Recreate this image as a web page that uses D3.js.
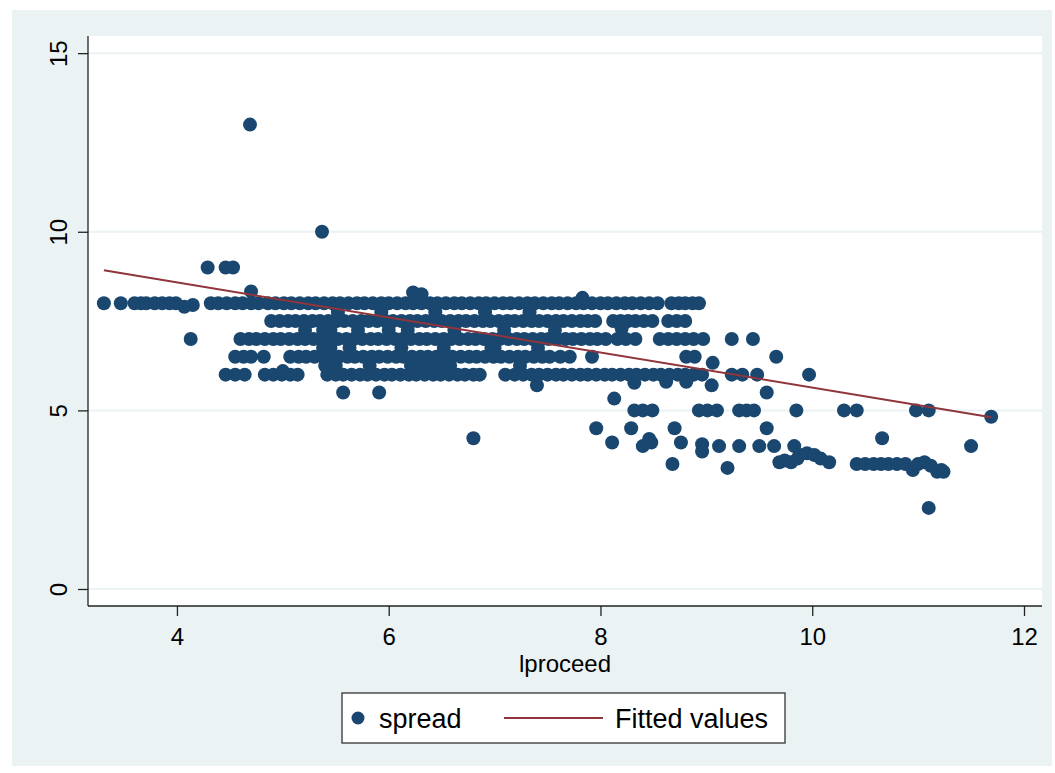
<!DOCTYPE html>
<html>
<head>
<meta charset="utf-8">
<script src="https://cdn.jsdelivr.net/npm/d3@7"></script>
<style>
  body { margin: 0; background: #fff; }
  svg text { font-family: "Liberation Sans", Arial, sans-serif; fill: #000; }
</style>
</head>
<body>
<div id="chart"></div>
<script>
// spread values sit on half-point levels, so the scatter is kept row by row (lproceed values)
const row8 = [3.31, 3.47, 3.60, 3.66, 3.71, 3.79, 3.86, 3.93, 3.99,
  4.32, 4.39, 4.47, 4.55, 4.62, 4.70, 4.77, 4.86, 4.93, 5.01, 5.08, 5.16, 5.24, 5.31, 5.39,
  5.47, 5.54, 5.62, 5.70, 5.77, 5.85, 5.93, 6.00, 6.08, 6.16, 6.23, 6.31, 6.39, 6.46, 6.54,
  6.62, 6.69, 6.77, 6.85, 6.92, 7.00, 7.08, 7.15, 7.23, 7.31, 7.38, 7.46, 7.54, 7.61, 7.69,
  7.77, 7.84, 7.92, 8.00, 8.07, 8.15, 8.23, 8.30, 8.38, 8.46, 8.54,
  8.67, 8.74, 8.80, 8.87, 8.93];
const row75 = [4.89, 4.97, 5.05, 5.12, 5.20, 5.28, 5.35, 5.43, 5.51, 5.58, 5.66, 5.74, 5.81,
  5.89, 5.97, 6.04, 6.12, 6.20, 6.27, 6.35, 6.43, 6.50, 6.58, 6.66, 6.73, 6.81, 6.89, 6.96,
  7.04, 7.12, 7.19, 7.27, 7.35, 7.42, 7.50, 7.58, 7.65, 7.73, 7.81, 7.88, 7.95,
  8.12, 8.19, 8.26, 8.33, 8.41, 8.49, 8.64, 8.72, 8.80];
const row7 = [4.13, 4.60, 4.68, 4.75, 4.83, 4.91, 4.98, 5.06, 5.14, 5.21, 5.29, 5.37, 5.44,
  5.52, 5.60, 5.67, 5.75, 5.83, 5.90, 5.98, 6.06, 6.13, 6.21, 6.29, 6.36, 6.44, 6.52, 6.59,
  6.67, 6.75, 6.82, 6.90, 6.98, 7.05, 7.13, 7.21, 7.28, 7.36, 7.44, 7.51, 7.59, 7.67, 7.74,
  7.82, 7.90, 7.97, 8.05, 8.16, 8.24, 8.33, 8.56, 8.64, 8.72, 8.80, 8.88, 8.97, 9.24, 9.44];
const row65 = [4.55, 4.63, 4.70, 4.82, 5.07, 5.15, 5.22, 5.30, 5.38, 5.45, 5.53, 5.61, 5.68,
  5.76, 5.84, 5.91, 5.99, 6.07, 6.14, 6.22, 6.30, 6.37, 6.45, 6.53, 6.60, 6.68, 6.76, 6.83,
  6.91, 6.99, 7.06, 7.14, 7.22, 7.29, 7.37, 7.45, 7.52, 7.62, 7.71, 7.92, 8.81, 8.89, 9.66];
const row6 = [4.46, 4.55, 4.64, 4.83, 4.91, 4.99, 5.07, 5.14, 5.42, 5.50, 5.57, 5.65, 5.73,
  5.80, 5.88, 5.96, 6.03, 6.11, 6.19, 6.26, 6.34, 6.42, 6.49, 6.57, 6.65, 6.72, 6.80, 6.86,
  7.10, 7.19, 7.27, 7.35, 7.42, 7.50, 7.58, 7.65, 7.73, 7.81, 7.88, 7.96, 8.04, 8.11, 8.19,
  8.27, 8.34, 8.42, 8.50, 8.57, 8.65, 8.73, 8.80, 8.88, 8.96, 9.24, 9.34, 9.48, 9.97];
const row55 = [5.57, 5.91, 9.57];
const row5 = [8.32, 8.40, 8.49, 8.93, 9.01, 9.10, 9.31, 9.38, 9.45, 9.85, 10.30, 10.42, 10.98, 11.10];
const row45 = [7.96, 8.29, 8.70, 9.57];

// points off the half-point rows
const otherX = [4.69, 5.37, 4.29, 4.46, 4.53, 4.70, 4.07, 4.15, 6.23, 6.31, 7.83, 5.00,
  5.38, 5.45, 5.38, 5.45, 5.40, 5.50, 6.30, 6.40, 6.50, 6.00, 7.00,
  5.52, 5.93, 6.44, 6.91, 7.33,
  5.21, 5.71, 6.18, 6.62, 7.09, 7.57,
  5.63, 6.12, 6.52, 6.97, 7.41,
  5.82, 6.21, 6.58, 7.24,
  6.80, 7.40, 8.20, 8.13, 8.32, 8.62, 8.81, 9.05, 9.06,
  8.11, 8.40, 8.46, 8.48, 8.76, 8.96, 8.96, 9.12, 9.31, 9.50, 9.64, 9.83, 10.66, 11.50,
  8.68, 9.20, 9.69, 9.74, 9.80, 9.86, 9.88, 9.95, 10.02, 10.08, 10.16,
  10.42, 10.50, 10.58, 10.65, 10.72, 10.80, 10.88, 10.95, 11.00, 11.06, 11.12, 11.18, 11.22, 11.24,
  11.10, 11.69];
const otherY = [13, 10, 9, 9, 9, 8.33, 7.9, 7.95, 8.3, 8.25, 8.15, 6.1,
  7.25, 7.25, 6.75, 6.75, 6.25, 6.25, 6.25, 6.25, 6.3, 7.25, 6.75,
  7.75, 7.75, 7.75, 7.75, 7.75,
  7.25, 7.25, 7.25, 7.25, 7.25, 7.25,
  6.75, 6.75, 6.75, 6.75, 6.75,
  6.25, 6.25, 6.25, 6.25,
  4.22, 5.7, 7.3, 5.33, 5.77, 5.8, 5.8, 5.7, 6.33,
  4.1, 4.0, 4.2, 4.1, 4.1, 3.85, 4.05, 4.0, 4.0, 4.0, 4.0, 4.0, 4.22, 4.0,
  3.5, 3.39, 3.55, 3.6, 3.55, 3.65, 3.75, 3.8, 3.75, 3.65, 3.55,
  3.5, 3.5, 3.5, 3.5, 3.5, 3.5, 3.5, 3.33, 3.5, 3.55, 3.45, 3.28, 3.33, 3.28,
  2.27, 4.82];

// fitted values line (ends at min and max lproceed)
const fitX = [3.31, 11.69];
const fitY = [8.92, 4.81];

const xTicks = [4, 6, 8, 10, 12];
const yTicks = [0, 5, 10, 15];

const points = [];
[[row8, 8], [row75, 7.5], [row7, 7], [row65, 6.5], [row6, 6], [row55, 5.5], [row5, 5], [row45, 4.5]]
  .forEach(([xs, y]) => xs.forEach(x => points.push({ x: x, y: y })));
otherX.forEach((x, i) => points.push({ x: x, y: otherY[i] }));

const W = 1055, H = 773;
const pLeft = 88, pRight = 1042, pTop = 36, pBottom = 606;
const dotColor = "#1a476f", lineColor = "#90353b", bg = "#eaf2f3";

const svg = d3.select("#chart").append("svg")
  .attr("width", W).attr("height", H);

// outer graph region
svg.append("rect").attr("x", 12).attr("y", 10)
  .attr("width", 1040).attr("height", 756).attr("fill", bg);
// plot region
svg.append("rect").attr("x", pLeft).attr("y", pTop)
  .attr("width", pRight - pLeft).attr("height", pBottom - pTop).attr("fill", "#fff");

const xScale = d3.scaleLinear().domain([3.16, 12.17]).range([pLeft, pRight]);
const yScale = d3.scaleLinear().domain([-0.476, 15.48]).range([pBottom, pTop]);

// grid lines
svg.append("g").selectAll("line").data(yTicks).join("line")
  .attr("x1", pLeft).attr("x2", pRight)
  .attr("y1", d => yScale(d)).attr("y2", d => yScale(d))
  .attr("stroke", bg).attr("stroke-width", 2);

// scatter
svg.append("g").selectAll("circle").data(points).join("circle")
  .attr("cx", d => xScale(d.x)).attr("cy", d => yScale(d.y))
  .attr("r", 7).attr("fill", dotColor);

// fitted line
svg.append("path")
  .datum(fitX.map((v, i) => ({ x: v, y: fitY[i] })))
  .attr("fill", "none").attr("stroke", lineColor).attr("stroke-width", 2)
  .attr("d", d3.line().x(d => xScale(d.x)).y(d => yScale(d.y)));

// axes
const yaxis = d3.axisLeft(yScale).tickValues(yTicks).tickSize(10).tickSizeOuter(0);
const xaxis = d3.axisBottom(xScale).tickValues(xTicks).tickSize(10).tickSizeOuter(0);

const gy = svg.append("g").attr("transform", "translate(" + pLeft + ",0)").call(yaxis);
gy.select(".domain").attr("d", "M0," + pTop + "V" + pBottom);
gy.selectAll("text")
  .attr("transform", "rotate(-90)")
  .attr("x", 0).attr("y", -21).attr("dy", 0)
  .attr("text-anchor", "middle")
  .style("font-size", "24px");

const gx = svg.append("g").attr("transform", "translate(0," + pBottom + ")").call(xaxis);
gx.select(".domain").attr("d", "M" + pLeft + ",0H" + pRight);
gx.selectAll("text").attr("y", 39).attr("dy", 0).style("font-size", "24px");

svg.selectAll(".domain, .tick line").attr("stroke", "#222").attr("stroke-width", 1.3);
svg.selectAll(".tick text").attr("fill", "#000").attr("font-family", null);

svg.append("text").attr("x", (pLeft + pRight) / 2).attr("y", 672)
  .attr("text-anchor", "middle").style("font-size", "24px").text("lproceed");

// legend
const lg = svg.append("g");
lg.append("rect").attr("x", 342).attr("y", 693).attr("width", 443).attr("height", 50)
  .attr("fill", "#fff").attr("stroke", "#333").attr("stroke-width", 1.3);
lg.append("circle").attr("cx", 358).attr("cy", 718).attr("r", 6.5).attr("fill", dotColor);
lg.append("text").attr("x", 379).attr("y", 728).style("font-size", "27px").text("spread");
lg.append("line").attr("x1", 504).attr("x2", 603).attr("y1", 718).attr("y2", 718)
  .attr("stroke", lineColor).attr("stroke-width", 2);
lg.append("text").attr("x", 615).attr("y", 728).style("font-size", "27px").text("Fitted values");
</script>
</body>
</html>
